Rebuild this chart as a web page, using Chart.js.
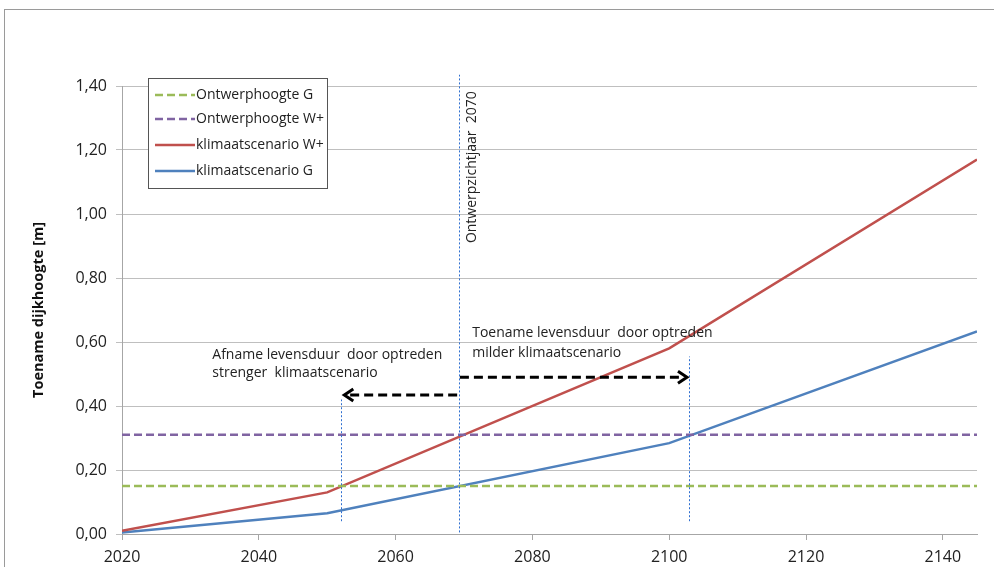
<!DOCTYPE html>
<html>
<head>
<meta charset="utf-8">
<script src="https://cdn.jsdelivr.net/npm/chart.js@4.4.0/dist/chart.umd.min.js"></script>
<style>
  body { margin: 0; background: #fff; }
</style>
</head>
<body>
<canvas id="chart" width="994" height="567"></canvas>
<script>
// jaren waar de lijnen een knik hebben
const years = [2020, 2050, 2100, 2145];
const klimaatWplus = [0.01, 0.13, 0.58, 1.17];
const klimaatG = [0.005, 0.065, 0.284, 0.633];
const ontwerpG = [0.15, 0.15, 0.15, 0.15];
const ontwerpWplus = [0.31, 0.31, 0.31, 0.31];
const xTicks = [2020, 2040, 2060, 2080, 2100, 2120, 2140];

function pts(vals) {
    return years.map((y, i) => ({x: y, y: vals[i]}));
}

const FONT = '"Open Sans", Lato, sans-serif';

const data = {
    datasets: [
        {label: 'Ontwerphoogte G', data: pts(ontwerpG), borderColor: '#9BBB59', borderWidth: 2.5, borderDash: [8, 4]},
        {label: 'Ontwerphoogte W+', data: pts(ontwerpWplus), borderColor: '#8064A2', borderWidth: 2.5, borderDash: [8, 4]},
        {label: 'klimaatscenario W+', data: pts(klimaatWplus), borderColor: '#C0504D', borderWidth: 2.5},
        {label: 'klimaatscenario G', data: pts(klimaatG), borderColor: '#4F81BD', borderWidth: 2.5}
    ]
}

// achtergrond, kader, hulplijnen, pijlen, teksten en legenda
const extras = {
    id: 'extras',
    beforeDraw(chart) {
        const ctx = chart.ctx;
        ctx.save();
        ctx.fillStyle = '#fff';
        ctx.fillRect(0, 0, chart.width, chart.height);
        ctx.strokeStyle = '#9a9a9a';
        ctx.lineWidth = 1;
        ctx.strokeRect(4.5, 9.5, 2000, 2000);
        ctx.restore();
    },
    afterDatasetsDraw(chart) {
        const ctx = chart.ctx;
        const xs = chart.scales.x, ys = chart.scales.y;
        const px = v => xs.getPixelForValue(v), py = v => ys.getPixelForValue(v);

        // gestippelde verticale lijnen
        const vlines = [[2052, 0.04, 0.42], [2069.2, 0.005, 1.435], [2102.9, 0.04, 0.555]];
        ctx.save();
        ctx.strokeStyle = '#2f6fd0';
        ctx.lineWidth = 1;
        ctx.setLineDash([2, 2]);
        vlines.forEach(v => {
            const x = Math.round(px(v[0])) + 0.5;
            ctx.beginPath();
            ctx.moveTo(x, py(v[1]));
            ctx.lineTo(x, py(v[2]));
            ctx.stroke();
        });
        ctx.restore();

        // pijlen
        function arrow(x1, x2, y) {
            const a = px(x1), b = px(x2), yy = py(y);
            const dir = b > a ? 1 : -1;
            ctx.save();
            ctx.strokeStyle = '#000';
            ctx.lineWidth = 3;
            ctx.setLineDash([9, 5]);
            ctx.beginPath();
            ctx.moveTo(a, yy);
            ctx.lineTo(b - dir * 4, yy);
            ctx.stroke();
            ctx.setLineDash([]);
            ctx.beginPath();
            ctx.moveTo(b - dir * 9, yy - 6);
            ctx.lineTo(b, yy);
            ctx.lineTo(b - dir * 9, yy + 6);
            ctx.stroke();
            ctx.restore();
        }
        arrow(2069, 2052.5, 0.434);
        arrow(2069.4, 2102.6, 0.49);

        // teksten
        ctx.save();
        ctx.fillStyle = '#222';
        ctx.font = '14px ' + FONT;
        ctx.textBaseline = 'middle';
        ctx.textAlign = 'left';
        ctx.fillText('Afname levensduur  door optreden', px(2033.2), py(0.559));
        ctx.fillText('strenger  klimaatscenario', px(2033.2), py(0.503));
        ctx.fillText('Toename levensduur  door optreden', px(2071.2), py(0.628));
        ctx.fillText('milder klimaatscenario', px(2071.2), py(0.566));
        ctx.translate(px(2071.2), py(0.909));
        ctx.rotate(-Math.PI / 2);
        ctx.fillText('Ontwerpzichtjaar  2070', 0, 0);
        ctx.restore();

        // legenda
        ctx.save();
        ctx.fillStyle = '#fff';
        ctx.fillRect(148, 78, 179, 110);
        ctx.strokeStyle = '#555';
        ctx.lineWidth = 1;
        ctx.strokeRect(148.5, 78.5, 179, 110);
        const rows = [95, 119, 145, 171];
        chart.data.datasets.forEach((ds, i) => {
            ctx.strokeStyle = ds.borderColor;
            ctx.lineWidth = 2.5;
            ctx.setLineDash(ds.borderDash || []);
            ctx.beginPath();
            ctx.moveTo(155, rows[i]);
            ctx.lineTo(195, rows[i]);
            ctx.stroke();
            ctx.fillStyle = '#222';
            ctx.font = '14px ' + FONT;
            ctx.textBaseline = 'middle';
            ctx.fillText(ds.label, 196, rows[i]);
        });
        ctx.restore();
    }
}

const config = {
    type: 'line',
    data,
    options: {
        responsive: false,
        animation: false,
        layout: {
            padding: {top: 86, right: 17, bottom: 0, left: 0}
        },
        elements: {
            point: {radius: 0},
            line: {tension: 0}
        },
        plugins: {
            legend: {display: false},
            tooltip: {enabled: false}
        },
        scales: {
            x: {
                type: 'linear',
                min: 2020,
                max: 2145,
                afterFit: s => { s.height = 33; },
                afterBuildTicks: s => { s.ticks = xTicks.map(v => ({value: v})); },
                ticks: {
                    color: '#222',
                    font: {family: FONT, size: 16},
                    padding: 8,
                    maxRotation: 0,
                    callback: v => String(v)
                },
                grid: {drawOnChartArea: false, tickLength: 6, color: '#a6a6a6'},
                border: {color: '#a6a6a6'}
            },
            y: {
                min: 0,
                max: 1.4,
                afterFit: s => { s.width = 122; },
                ticks: {
                    stepSize: 0.2,
                    color: '#222',
                    font: {family: FONT, size: 16},
                    padding: 9,
                    callback: v => v.toFixed(2).replace('.', ',')
                },
                grid: {color: '#bfbfbf', tickLength: 6},
                border: {color: '#a6a6a6'},
                title: {
                    display: true,
                    text: 'Toename dijkhoogte [m]',
                    color: '#111',
                    font: {family: FONT, size: 14.5, weight: 'bold'},
                    padding: {top: 30, bottom: 0}
                }
            }
        }
    },
    plugins: [extras]
}

var chart = document.getElementById('chart');
var myChart = new Chart(chart, config);
</script>
</body>
</html>
